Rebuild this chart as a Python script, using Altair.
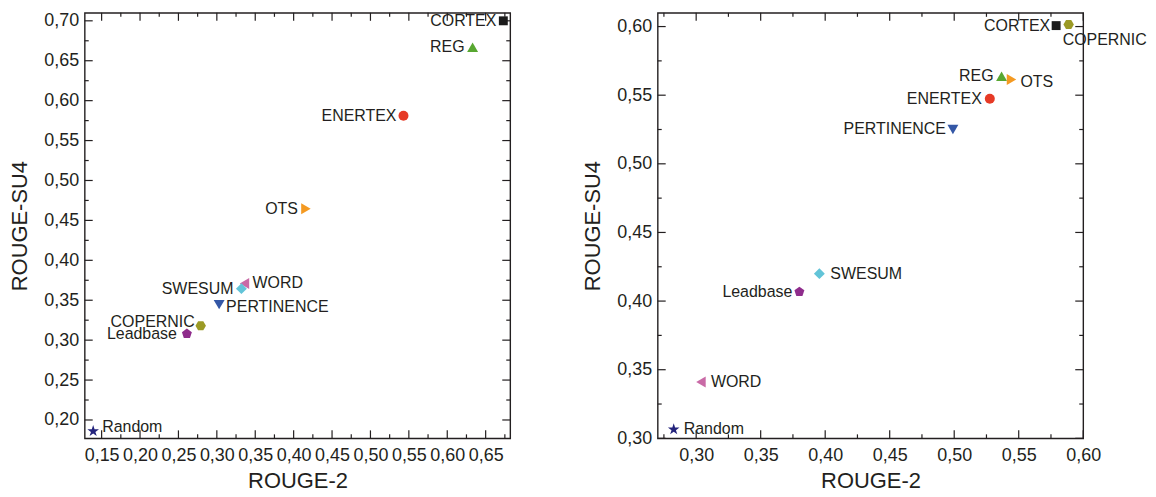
import altair as alt
import pandas as pd

# ---------------- data ----------------
names = ["CORTEX", "REG", "ENERTEX", "OTS", "WORD", "SWESUM",
         "PERTINENCE", "COPERNIC", "Leadbase", "Random"]

left_rouge2 = [0.673, 0.633, 0.543, 0.416, 0.336, 0.332, 0.303, 0.279, 0.261, 0.139]
left_rougesu4 = [0.700, 0.667, 0.581, 0.4645, 0.371, 0.3645, 0.3445, 0.318, 0.308, 0.186]

right_rouge2 = [0.579, 0.5367, 0.5276, 0.5444, 0.3037, 0.3955, 0.499, 0.5887, 0.380, 0.2826]
right_rougesu4 = [0.6007, 0.5638, 0.5474, 0.5614, 0.341, 0.420, 0.525, 0.6015, 0.4067, 0.3065]

left_x_major = [0.15, 0.20, 0.25, 0.30, 0.35, 0.40, 0.45, 0.50, 0.55, 0.60, 0.65]
left_x_minor = [0.175, 0.225, 0.275, 0.325, 0.375, 0.425, 0.475, 0.525, 0.575, 0.625, 0.675]
left_y_major = [0.20, 0.25, 0.30, 0.35, 0.40, 0.45, 0.50, 0.55, 0.60, 0.65, 0.70]
left_y_minor = [0.225, 0.275, 0.325, 0.375, 0.425, 0.475, 0.525, 0.575, 0.625, 0.675]

right_x_major = [0.30, 0.35, 0.40, 0.45, 0.50, 0.55, 0.60]
right_x_minor = [0.275, 0.325, 0.375, 0.425, 0.475, 0.525, 0.575]
right_y_major = [0.30, 0.35, 0.40, 0.45, 0.50, 0.55, 0.60]
right_y_minor = [0.325, 0.375, 0.425, 0.475, 0.525, 0.575]

# ---------------- styles ----------------
HEX = "M1,0L0.5,0.866L-0.5,0.866L-1,0L-0.5,-0.866L0.5,-0.866Z"
PENT = "M0,-1L0.951,-0.309L0.588,0.809L-0.588,0.809L-0.951,-0.309Z"
STAR = ("M0,-1L0.2245,-0.309L0.951,-0.309L0.363,0.118L0.588,0.809L0,0.382"
        "L-0.588,0.809L-0.363,0.118L-0.951,-0.309L-0.2245,-0.309Z")

style = {
    "CORTEX":     ("square",         "#1b1b1b", 80),
    "REG":        ("triangle-up",    "#58a731", 120),
    "ENERTEX":    ("circle",         "#e63a26", 100),
    "OTS":        ("triangle-right", "#f49a22", 120),
    "WORD":       ("triangle-left",  "#c96aa6", 120),
    "SWESUM":     ("diamond",        "#62c4d8", 120),
    "PERTINENCE": ("triangle-down",  "#3457a6", 120),
    "COPERNIC":   (HEX,              "#9b9a25", 110),
    "Leadbase":   (PENT,             "#8f2c8c", 110),
    "Random":     (STAR,             "#23237c", 150),
}

left_labels = {
    "CORTEX": ("right", -7, 0), "REG": ("right", -8, 0), "ENERTEX": ("right", -7, 0),
    "OTS": ("right", -8, 0), "WORD": ("left", 8, 0), "SWESUM": ("right", -8, 0),
    "PERTINENCE": ("left", 7, 2), "COPERNIC": ("right", -6, -4),
    "Leadbase": ("right", -10, 0), "Random": ("left", 9, -4),
}
right_labels = {
    "CORTEX": ("right", -6, 0), "COPERNIC": ("left", -6, 16), "REG": ("right", -8, 0),
    "OTS": ("left", 9, 2), "ENERTEX": ("right", -8, 0), "PERTINENCE": ("right", -7, 0),
    "SWESUM": ("left", 11, 0), "Leadbase": ("right", -7, 0), "WORD": ("left", 10, 0),
    "Random": ("left", 10, 0),
}

FONT = "Liberation Sans"
INK = "#231f20"
W, H = 427, 427
LABEL_EXPR = "replace(format(datum.value, '.2f'), '.', ',')"


def panel(xs, ys, xdom, ydom, xmaj, xmin, ymaj, ymin, labels):
    df = pd.DataFrame({
        "name": names, "x": xs, "y": ys,
        "shape": [style[n][0] for n in names],
        "color": [style[n][1] for n in names],
        "size": [style[n][2] for n in names],
    })
    xscale = alt.Scale(domain=xdom, nice=False, zero=False)
    yscale = alt.Scale(domain=ydom, nice=False, zero=False)
    xaxis = alt.Axis(values=xmaj, labelExpr=LABEL_EXPR, ticks=False, tickSize=0,
                     domain=False, grid=False, labelPadding=8, titlePadding=6,
                     labelOverlap=False, labelFlush=False,
                     labelFont=FONT, labelFontSize=18, labelColor=INK,
                     titleFont=FONT, titleFontSize=22, titleFontWeight="normal",
                     titleColor=INK)
    yaxis = alt.Axis(values=ymaj, labelExpr=LABEL_EXPR, ticks=False, tickSize=0,
                     domain=False, grid=False, labelPadding=6, titlePadding=12,
                     labelOverlap=False, labelFlush=False,
                     labelFont=FONT, labelFontSize=18, labelColor=INK,
                     titleFont=FONT, titleFontSize=22, titleFontWeight="normal",
                     titleColor=INK)

    def X(f):
        return alt.X(f, type="quantitative", scale=xscale, axis=xaxis, title="ROUGE-2")

    def Y(f):
        return alt.Y(f, type="quantitative", scale=yscale, axis=yaxis, title="ROUGE-SU4")

    layers = []
    # inward ticks on all four sides
    for vals, ln in ((xmaj, 8), (xmin, 4)):
        tdf = pd.DataFrame({"v": vals})
        base = alt.Chart(tdf).mark_rule(color=INK, strokeWidth=1.2)
        layers.append(base.encode(x=X("v"), y=alt.value(H), y2=alt.value(H - ln)))
        layers.append(base.encode(x=X("v"), y=alt.value(0), y2=alt.value(ln)))
    for vals, ln in ((ymaj, 8), (ymin, 4)):
        tdf = pd.DataFrame({"v": vals})
        base = alt.Chart(tdf).mark_rule(color=INK, strokeWidth=1.2)
        layers.append(base.encode(y=Y("v"), x=alt.value(0), x2=alt.value(ln)))
        layers.append(base.encode(y=Y("v"), x=alt.value(W), x2=alt.value(W - ln)))

    pts = alt.Chart(df).mark_point(filled=True, opacity=1, strokeWidth=0).encode(
        x=X("x"), y=Y("y"),
        shape=alt.Shape("shape:N", scale=None),
        color=alt.Color("color:N", scale=None),
        size=alt.Size("size:Q", scale=None),
    )
    layers.append(pts)

    for n in names:
        al, dx, dy = labels[n]
        layers.append(
            alt.Chart(df).transform_filter(alt.datum.name == n)
            .mark_text(align=al, baseline="middle", dx=dx, dy=dy,
                       font=FONT, fontSize=16, color=INK)
            .encode(x=X("x"), y=Y("y"), text="name:N")
        )
    return alt.layer(*layers).properties(width=W, height=H)


left = panel(left_rouge2, left_rougesu4, [0.128, 0.682], [0.177, 0.710],
             left_x_major, left_x_minor, left_y_major, left_y_minor, left_labels)
right = panel(right_rouge2, right_rougesu4, [0.2702, 0.600], [0.300, 0.610],
              right_x_major, right_x_minor, right_y_major, right_y_minor, right_labels)

chart = (
    alt.hconcat(left, right, spacing=69)
    .properties(padding={"left": 0, "top": 2, "right": 0, "bottom": 0},
                background="white")
    .configure_view(stroke=INK, strokeWidth=1.4)
    .configure_axis(labelFont=FONT, labelFontSize=18, labelColor=INK,
                    titleFont=FONT, titleFontSize=22, titleFontWeight="normal",
                    titleColor=INK)
)

chart.save("out.html", embed_options={"renderer": "svg", "actions": False})
